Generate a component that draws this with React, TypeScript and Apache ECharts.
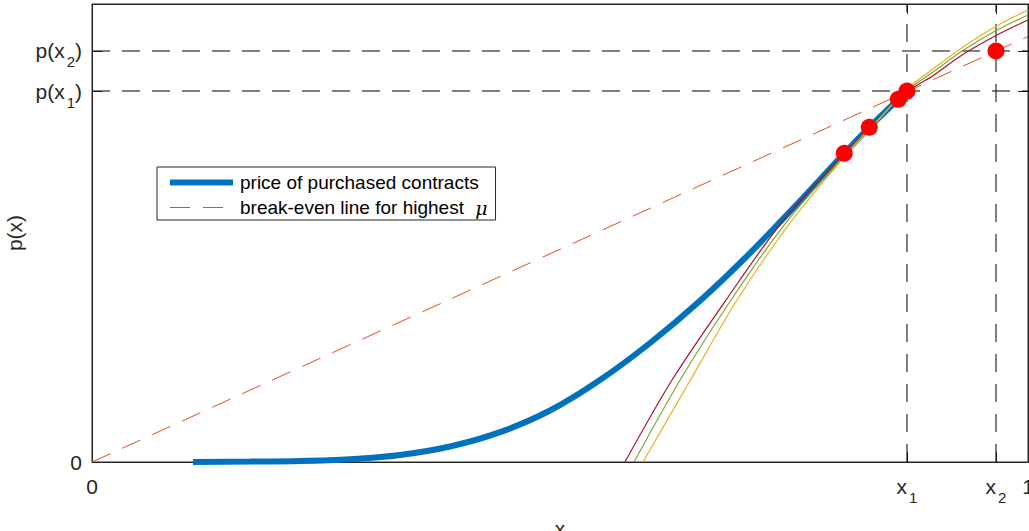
import React, { useEffect, useRef } from 'react';
import * as echarts from 'echarts';

// Key abscissae and prices
const X1 = 0.8707;
const X2 = 0.9658;
const PX1 = 0.81;
const PX2 = 0.8974;

// Tick positions and their labels (rich text: m = main, s = subscript)
const xTickValues = [0, X1, X2, 1];
const xTickLabels = ['{m|0}', '{m|x}{s|1}', '{m|x}{s|2}', '{m|1}'];
const yTickValues = [0, PX1, PX2];
const yTickLabels = ['{m|0}', '{m|p(x}{s|1}{m|)}', '{m|p(x}{s|2}{m|)}'];

// Price of the purchased contracts
const purchasedPrice: [number, number][] = [
  [0.1079, 0], [0.1688, 0.0009], [0.2222, 0.0022], [0.2756, 0.0061],
  [0.3291, 0.0153], [0.3825, 0.0338], [0.4359, 0.0651], [0.4893, 0.1124],
  [0.5427, 0.179], [0.5962, 0.2598], [0.6496, 0.3521], [0.703, 0.4563],
  [0.7564, 0.5699], [0.8037, 0.674], [0.8304, 0.7308], [0.8614, 0.7919],
  [0.8707, 0.81],
];

// Price curves for three values of mu
const priceMuA: [number, number][] = [
  [0.5694, 0], [0.6197, 0.179], [0.6774, 0.3537], [0.7372, 0.524],
  [0.8045, 0.6747], [0.8376, 0.7445], [0.8707, 0.8079], [0.8985, 0.8434],
  [0.9295, 0.8886], [0.9669, 0.9323], [1, 0.9651],
];
const priceMuB: [number, number][] = [
  [0.5791, 0], [0.6293, 0.1823], [0.6827, 0.3537], [0.7415, 0.5229],
  [0.8045, 0.6714], [0.8376, 0.7434], [0.8707, 0.8111], [0.8985, 0.8515],
  [0.9295, 0.8974], [0.9669, 0.9432], [1, 0.976],
];
const priceMuC: [number, number][] = [
  [0.5887, 0], [0.6389, 0.1775], [0.6891, 0.3537], [0.7457, 0.5214],
  [0.8045, 0.6678], [0.8376, 0.741], [0.8707, 0.8144], [0.8985, 0.8581],
  [0.9295, 0.9046], [0.9669, 0.9526], [1, 0.9869],
];

// Break-even line for the highest mu
const breakEven: [number, number][] = [[0, 0], [1, 0.929]];

// Purchase points
const purchasePoints: [number, number][] = [
  [0.8037, 0.674], [0.8304, 0.7308], [0.8614, 0.7919], [0.8707, 0.81], [0.9658, 0.8974],
];

const FONT = '"Liberation Sans", Arial, Helvetica, sans-serif';
const AXIS_COLOR = '#262626';

const SERIES_PRICE = 'price of purchased contracts';
const SERIES_BREAK = 'break-even line for highest μ';

const pickLabel = (values: number[], labels: string[]) => (v: number) => {
  let best = 0;
  for (let i = 1; i < values.length; i++) {
    if (Math.abs(values[i] - v) < Math.abs(values[best] - v)) best = i;
  }
  return labels[best];
};

const tickRich = {
  m: { fontSize: 21, lineHeight: 36, fontFamily: FONT, color: AXIS_COLOR, verticalAlign: 'middle' },
  s: { fontSize: 15, fontFamily: FONT, color: AXIS_COLOR, padding: [22, 0, 0, 2], verticalAlign: 'middle' },
};

const guide = (data: [number, number][]) => ({
  type: 'line',
  data,
  symbol: 'none',
  silent: true,
  lineStyle: { color: '#000', width: 1, type: [18, 12] },
  z: 1,
});

const thinCurve = (name: string, data: [number, number][], color: string) => ({
  name,
  type: 'line',
  data,
  symbol: 'none',
  smooth: 0.3,
  lineStyle: { color, width: 1.2 },
  z: 3,
});

export default function App() {
  const ref = useRef<HTMLDivElement>(null);

  useEffect(() => {
    if (!ref.current) return;
    const chart = echarts.init(ref.current, undefined, { renderer: 'svg' });

    const baseAxisLine = { show: true, onZero: false, lineStyle: { color: AXIS_COLOR, width: 1 } };
    const tick = (values: number[]) => ({
      show: true, inside: true, length: 10, customValues: values, lineStyle: { color: AXIS_COLOR },
    });

    chart.setOption({
      animation: false,
      backgroundColor: '#fff',
      grid: {
        left: 92, right: 1, top: 4, bottom: 69,
        show: true, borderColor: AXIS_COLOR, borderWidth: 1,
        containLabel: false, outerBoundsMode: 'none',
      },
      legend: {
        data: [SERIES_PRICE, SERIES_BREAK],
        orient: 'vertical',
        left: 157,
        top: 167,
        padding: [6, 8, 3, 10],
        itemGap: 6,
        itemWidth: 63,
        itemHeight: 20,
        borderColor: AXIS_COLOR,
        borderWidth: 1,
        backgroundColor: '#fff',
        lineStyle: { width: 'inherit' },
        textStyle: {
          fontSize: 19,
          fontFamily: FONT,
          color: '#000',
          padding: [0, 0, 0, 2],
          rich: {
            mu: { fontSize: 19, fontFamily: '"DejaVu Serif", serif', fontStyle: 'italic', color: '#000', padding: [0, 0, 0, 6] },
          },
        },
        formatter: (name: string) => name.replace('μ', '{mu|μ}'),
      },
      xAxis: [
        {
          type: 'value', min: 0, max: 1, position: 'bottom',
          axisLine: baseAxisLine,
          axisTick: tick(xTickValues),
          axisLabel: {
            show: true, customValues: xTickValues, margin: 6,
            formatter: pickLabel(xTickValues, xTickLabels), rich: tickRich,
          },
          splitLine: { show: false },
          name: 'x', nameLocation: 'middle', nameGap: 56,
          nameTextStyle: { fontSize: 21, fontFamily: FONT, color: AXIS_COLOR },
        },
        {
          type: 'value', min: 0, max: 1, position: 'top',
          axisLine: baseAxisLine,
          axisTick: tick(xTickValues),
          axisLabel: { show: false },
          splitLine: { show: false },
        },
      ],
      yAxis: [
        {
          type: 'value', min: 0, max: 1, position: 'left',
          axisLine: baseAxisLine,
          axisTick: tick(yTickValues),
          axisLabel: {
            show: true, customValues: yTickValues, margin: 10,
            formatter: pickLabel(yTickValues, yTickLabels), rich: tickRich,
          },
          splitLine: { show: false },
          name: 'p(x)', nameLocation: 'middle', nameGap: 58, nameRotate: 90,
          nameTextStyle: { fontSize: 21, fontFamily: FONT, color: AXIS_COLOR },
        },
        {
          type: 'value', min: 0, max: 1, position: 'right',
          axisLine: baseAxisLine,
          axisTick: tick(yTickValues),
          axisLabel: { show: false },
          splitLine: { show: false },
        },
      ],
      series: [
        guide([[0, PX1], [1, PX1]]),
        guide([[0, PX2], [1, PX2]]),
        guide([[X1, 0], [X1, 1]]),
        guide([[X2, 0], [X2, 1]]),
        {
          name: SERIES_PRICE,
          type: 'line',
          data: purchasedPrice,
          symbol: 'none',
          smooth: 0.3,
          lineStyle: { color: '#0072BD', width: 6, cap: 'butt' },
          itemStyle: { color: '#0072BD', opacity: 0 },
          z: 2,
        },
        thinCurve('mu low', priceMuA, '#A2142F'),
        thinCurve('mu mid', priceMuB, '#77AC30'),
        thinCurve('mu high', priceMuC, '#EDB120'),
        {
          name: SERIES_BREAK,
          type: 'line',
          data: breakEven,
          symbol: 'none',
          lineStyle: { color: '#D95319', width: 1, type: [20, 13] },
          itemStyle: { color: '#D95319', opacity: 0 },
          z: 3,
        },
        {
          name: 'purchases',
          type: 'scatter',
          data: purchasePoints,
          symbol: 'circle',
          symbolSize: 17,
          itemStyle: { color: '#FF0000', opacity: 1 },
          z: 4,
        },
      ],
    });

    return () => chart.dispose();
  }, []);

  return (
    <div
      ref={ref}
      style={{ position: 'fixed', left: 0, top: 0, width: 1029, height: 531, background: '#fff' }}
    />
  );
}
